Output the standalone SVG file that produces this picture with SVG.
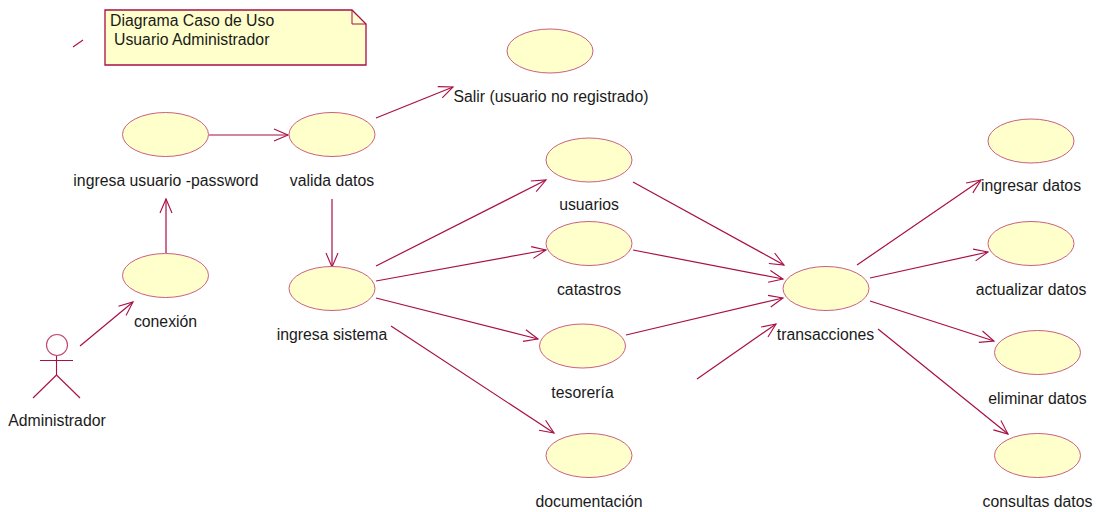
<svg xmlns="http://www.w3.org/2000/svg" width="1100" height="512" viewBox="0 0 1100 512">
<defs>
<marker id="arr" markerUnits="userSpaceOnUse" markerWidth="20" markerHeight="20" refX="15" refY="7" orient="auto" viewBox="0 0 20 14"><path d="M1 1 L15 7 L1 13" fill="none" stroke="#a80f46" stroke-width="1.1"/></marker>
</defs>
<style>
text{font-family:"Liberation Sans",Arial,sans-serif;font-size:15.8px;fill:#1a1a1a}
.m{text-anchor:middle}
ellipse{fill:#ffffcb;stroke:#cb5f80;stroke-width:1}
.c line{stroke:#a80f46;stroke-width:1.2;fill:none;marker-end:url(#arr)}
.a line,.a circle{stroke:#a80f46;stroke-width:1.1;fill:none}
.a circle{stroke:#c2446c}
</style>
<rect width="1100" height="512" fill="#fff"/>
<g id="note">
<path d="M105 10H352L366 24V65H105Z" fill="#ffffcb" stroke="#a80f46" stroke-width="1.3"/>
<path d="M352 10V24H366" fill="none" stroke="#a80f46" stroke-width="1"/>
<text x="110" y="25.500">Diagrama Caso de Uso</text>
<text x="114" y="44.500">Usuario Administrador</text>
</g>
<g class="c" id="connectors">
<line x1="209" y1="135" x2="288" y2="135"/>
<line x1="166" y1="253" x2="166" y2="199"/>
<line x1="80" y1="346" x2="133" y2="302"/>
<line x1="376" y1="118" x2="453" y2="87"/>
<line x1="332" y1="199" x2="332" y2="267"/>
<line x1="376" y1="266" x2="546" y2="180"/>
<line x1="376" y1="281" x2="546" y2="250"/>
<line x1="376" y1="298" x2="538" y2="339"/>
<line x1="391" y1="326" x2="554" y2="433"/>
<line x1="633" y1="182" x2="784" y2="265"/>
<line x1="633" y1="250" x2="783" y2="279"/>
<line x1="626" y1="335" x2="783" y2="298"/>
<line x1="697" y1="379" x2="776" y2="324"/>
<line x1="857" y1="265" x2="981" y2="180"/>
<line x1="870" y1="278" x2="988" y2="252"/>
<line x1="870" y1="301" x2="994" y2="341"/>
<line x1="878" y1="329" x2="1008" y2="434"/>
<path d="M73 47 L83 40" fill="none" stroke="#a80f46" stroke-width="1.1"/>
</g>
<g id="administrador" class="a">
<circle cx="57" cy="345" r="10.5"/>
<line x1="40" y1="360.500" x2="73" y2="360.500"/>
<line x1="56.500" y1="356" x2="56.500" y2="375"/>
<line x1="56.500" y1="375" x2="33" y2="398"/>
<line x1="56.500" y1="375" x2="80" y2="398"/>
<text class="m" x="57" y="425.500" style="stroke:none">Administrador</text>
</g>
<g id="ingresa-usuario"><ellipse cx="165.500" cy="134.500" rx="43" ry="22"/><text class="m" x="166" y="185.500">ingresa usuario -password</text></g>
<g id="valida-datos"><ellipse cx="332" cy="134.500" rx="43" ry="22"/><text class="m" x="332" y="185.500">valida datos</text></g>
<g id="conexion"><ellipse cx="165.500" cy="275.500" rx="43" ry="22"/><text class="m" x="165.500" y="326.500">conexión</text></g>
<g id="salir"><ellipse cx="550" cy="51" rx="43" ry="22"/><text class="m" x="551" y="101.500">Salir (usuario no registrado)</text></g>
<g id="ingresa-sistema"><ellipse cx="332" cy="288.500" rx="43" ry="22"/><text class="m" x="332" y="339.500">ingresa sistema</text></g>
<g id="usuarios"><ellipse cx="589" cy="160" rx="43" ry="22"/><text class="m" x="589" y="209.500">usuarios</text></g>
<g id="catastros"><ellipse cx="589" cy="243.500" rx="43" ry="22"/><text class="m" x="589" y="294.500">catastros</text></g>
<g id="tesoreria"><ellipse cx="582.500" cy="346" rx="43" ry="22"/><text class="m" x="582.500" y="397.500">tesorería</text></g>
<g id="documentacion"><ellipse cx="589" cy="455.500" rx="43" ry="22"/><text class="m" x="589" y="506.500">documentación</text></g>
<g id="transacciones"><ellipse cx="826" cy="288.500" rx="43" ry="22"/><text class="m" x="825.500" y="339.500">transacciones</text></g>
<g id="ingresar-datos"><ellipse cx="1031" cy="141" rx="43" ry="22"/><text class="m" x="1031" y="190.500">ingresar datos</text></g>
<g id="actualizar-datos"><ellipse cx="1031" cy="243.500" rx="43" ry="22"/><text class="m" x="1031" y="294.500">actualizar datos</text></g>
<g id="eliminar-datos"><ellipse cx="1037.500" cy="352.500" rx="43" ry="22"/><text class="m" x="1037.500" y="403.500">eliminar datos</text></g>
<g id="consultas-datos"><ellipse cx="1037.500" cy="455.500" rx="43" ry="22"/><text class="m" x="1037.500" y="506.500">consultas datos</text></g>
</svg>
